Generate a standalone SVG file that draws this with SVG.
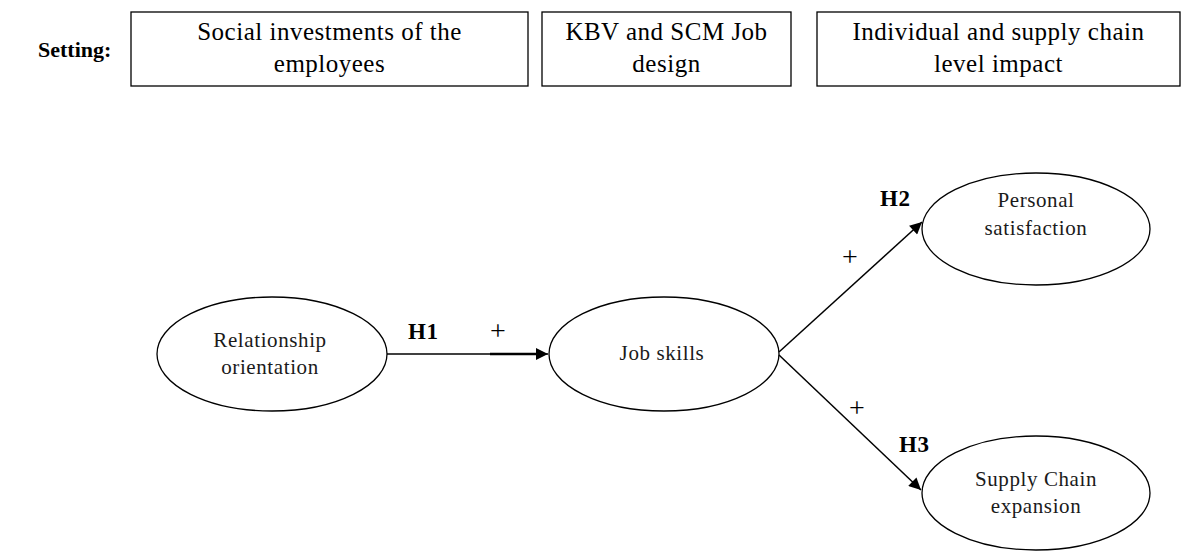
<svg xmlns="http://www.w3.org/2000/svg" width="1194" height="552" viewBox="0 0 1194 552">
<style>
.box{fill:#fff;stroke:#000;stroke-width:1.3}
.ell{fill:#fff;stroke:#000;stroke-width:1.3}
.bt{font-family:"Liberation Serif","Times New Roman",serif;font-size:25px;letter-spacing:0.5px;fill:#000;text-anchor:middle}
.et{font-family:"Liberation Serif","Times New Roman",serif;font-size:21px;letter-spacing:0.6px;fill:#1a1a1a;text-anchor:middle}
.h{font-family:"Liberation Serif","Times New Roman",serif;font-size:23px;letter-spacing:0.6px;font-weight:bold;fill:#000}
.p{font-family:"Liberation Serif","Times New Roman",serif;font-size:28px;fill:#000}
.c{stroke:#000;stroke-width:1.5;fill:none}
</style>
<defs>
<marker id="ah" viewBox="0 0 10 10" refX="10" refY="5" markerWidth="13" markerHeight="12" markerUnits="userSpaceOnUse" orient="auto">
<path d="M0,0 L10,5 L0,10 Z" fill="#000"/>
</marker>
</defs>
<text x="38" y="57" class="h" style="font-size:22px;letter-spacing:0">Setting:</text>
<g id="box1"><rect class="box" x="131" y="12" width="397" height="74"/><text class="bt" x="329.5" y="40">Social investments of the</text><text class="bt" x="329.5" y="72">employees</text></g>
<g id="box2"><rect class="box" x="542" y="12" width="249" height="74"/><text class="bt" x="666.5" y="40">KBV and SCM Job</text><text class="bt" x="666.5" y="72">design</text></g>
<g id="box3"><rect class="box" x="817" y="12" width="363" height="74"/><text class="bt" x="998.5" y="40">Individual and supply chain</text><text class="bt" x="998.5" y="72">level impact</text></g>
<g id="relationship"><ellipse class="ell" cx="272" cy="354" rx="115" ry="57"/><text class="et" x="270" y="347">Relationship</text><text class="et" x="270" y="374">orientation</text></g>
<g id="jobskills"><ellipse class="ell" cx="664" cy="354" rx="115" ry="57"/><text class="et" x="662" y="360">Job skills</text></g>
<g id="personal"><ellipse class="ell" cx="1036" cy="229" rx="114" ry="56"/><text class="et" x="1036" y="207">Personal</text><text class="et" x="1036" y="235">satisfaction</text></g>
<g id="supply"><ellipse class="ell" cx="1036" cy="493" rx="114" ry="57"/><text class="et" x="1036" y="486">Supply Chain</text><text class="et" x="1036" y="513">expansion</text></g>
<g id="connectors">
<line class="c" x1="387" y1="354" x2="548" y2="354" marker-end="url(#ah)"/>
<line x1="490" y1="354" x2="540" y2="354" stroke="#000" stroke-width="2.5"/>
<line class="c" x1="779" y1="352" x2="922" y2="222" marker-end="url(#ah)"/>
<line class="c" x1="779" y1="355" x2="921" y2="490" marker-end="url(#ah)"/>
</g>
<g id="labels">
<text class="h" x="408" y="339">H1</text>
<text class="p" x="490" y="340">+</text>
<text class="h" x="880" y="206">H2</text>
<text class="p" x="842" y="266">+</text>
<text class="p" x="849" y="417">+</text>
<text class="h" x="899" y="452">H3</text>
</g>
</svg>
